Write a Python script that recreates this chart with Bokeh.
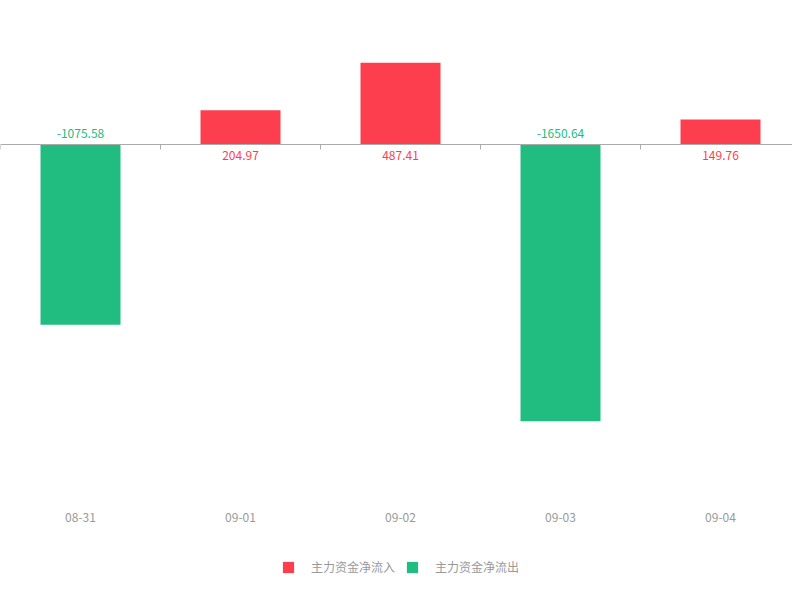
from bokeh.plotting import figure
from bokeh.models import ColumnDataSource, Legend, LegendItem, Span
from bokeh.core.properties import value
from bokeh.embed import file_html
from bokeh.resources import INLINE

dates = ["08-31", "09-01", "09-02", "09-03", "09-04"]
flows = [-1075.58, 204.97, 487.41, -1650.64, 149.76]
inflow_name = "主力资金净流入"
outflow_name = "主力资金净流出"

RED = "#fd3e4e"
GREEN = "#21bd80"
GRAY = "#999999"
FONT = "Noto Sans CJK SC"

W, H = 792, 592
k = 0.1677          # px per unit
zero_px = 144       # zero line, px from frame top
y_top = zero_px / k
y_bot = -(H - zero_px) / k

p = figure(width=W, height=H, output_backend="svg", toolbar_location=None,
           x_range=(0.0, W / 160.0), y_range=(y_bot, y_top),
           min_border_left=0, min_border_right=0, min_border_top=0, min_border_bottom=0)
p.outline_line_color = None
p.grid.visible = False
p.xaxis.visible = False
p.yaxis.visible = False
p.background_fill_color = "white"

xs = [i + 0.5 for i in range(len(dates))]

src_pos = ColumnDataSource(dict(x=[x for x, v in zip(xs, flows) if v >= 0],
                                top=[v for v in flows if v >= 0],
                                lab=["%.2f" % v for v in flows if v >= 0]))
src_neg = ColumnDataSource(dict(x=[x for x, v in zip(xs, flows) if v < 0],
                                top=[v for v in flows if v < 0],
                                lab=["%.2f" % v for v in flows if v < 0]))

r_pos = p.vbar(x="x", top="top", bottom=0, width=0.5, source=src_pos,
               fill_color=RED, line_color=None)
r_neg = p.vbar(x="x", top="top", bottom=0, width=0.5, source=src_neg,
               fill_color=GREEN, line_color=None)

# value labels
p.text(x="x", y=0, text="lab", source=src_pos, text_color=RED,
       text_font=value(FONT), text_font_size="12px", text_align="center",
       text_baseline="middle", y_offset=11)
p.text(x="x", y=0, text="lab", source=src_neg, text_color=GREEN,
       text_font=value(FONT), text_font_size="12px", text_align="center",
       text_baseline="middle", y_offset=-11)

# zero axis line and ticks
p.add_layout(Span(location=0, dimension="width", line_color="#aaaaaa", line_width=1))
bounds = list(range(len(dates) + 1))
p.segment(x0=bounds, y0=[0] * len(bounds), x1=bounds, y1=[-5 / k] * len(bounds),
          line_color="#aaaaaa", line_width=1)

# category labels at the bottom
src_cat = ColumnDataSource(dict(x=xs, lab=dates, y=[y_bot] * len(xs)))
p.text(x="x", y="y", text="lab", source=src_cat, text_color=GRAY,
       text_font=value(FONT), text_font_size="12px", text_align="center",
       text_baseline="middle", y_offset=-75)

legend = Legend(items=[LegendItem(label=inflow_name, renderers=[r_pos]),
                       LegendItem(label=outflow_name, renderers=[r_neg])],
                orientation="horizontal", location=(281, 17),
                glyph_width=14, glyph_height=14, label_standoff=16, spacing=10,
                label_text_font=FONT, label_text_font_size="12px",
                label_text_color=GRAY, border_line_color=None,
                background_fill_alpha=0, margin=0, padding=0)
p.add_layout(legend)

open("out.html", "w").write(file_html(p, INLINE))
